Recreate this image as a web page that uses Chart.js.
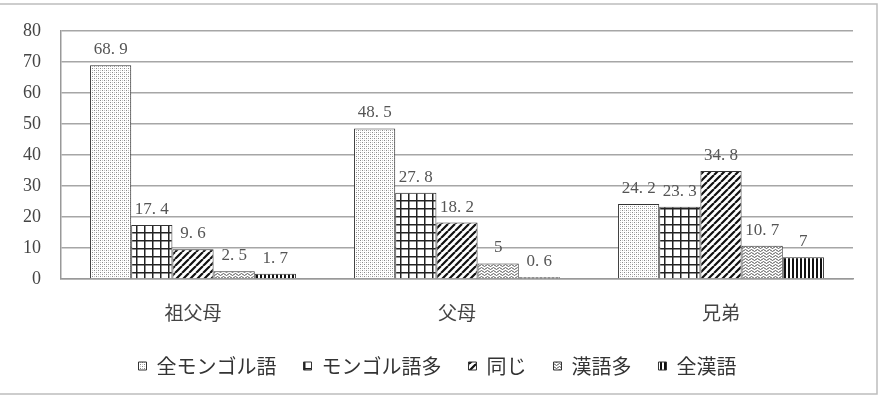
<!DOCTYPE html>
<html>
<head>
<meta charset="utf-8">
<script src="https://cdn.jsdelivr.net/npm/chart.js@4.4.0/dist/chart.umd.min.js"></script>
<style>
  html, body { margin: 0; padding: 0; background: #fff; }
  #wrap { width: 879px; height: 396px; }
</style>
</head>
<body>
<div id="wrap"><canvas id="chart" width="879" height="396"></canvas></div>
<script>
// ---- data ----
const categories = ['祖父母', '父母', '兄弟'];
const seriesNames = ['全モンゴル語', 'モンゴル語多', '同じ', '漢語多', '全漢語'];
const allMongolian = [68.9, 48.5, 24.2];
const mostlyMongolian = [17.4, 27.8, 23.3];
const same = [9.6, 18.2, 34.8];
const mostlyChinese = [2.5, 5, 10.7];
const allChinese = [1.7, 0.6, 7];
const yTicks = [0, 10, 20, 30, 40, 50, 60, 70, 80];

// ---- patterns ----
function makeTile(size, draw) {
  const c = document.createElement('canvas');
  c.width = size; c.height = size;
  const g = c.getContext('2d');
  g.fillStyle = '#fff';
  g.fillRect(0, 0, size, size);
  draw(g, size);
  return document.getElementById('chart').getContext('2d').createPattern(c, 'repeat');
}

const patterns = [
  // fine stipple
  makeTile(4, (g) => {
    g.fillStyle = '#8a8a8a';
    g.fillRect(0, 0, 1, 1);
    g.fillRect(2, 2, 1, 1);
    g.fillStyle = '#c8c8c8';
    g.fillRect(2, 0, 1, 1);
    g.fillRect(0, 2, 1, 1);
  }),
  // square grid
  makeTile(8, (g) => {
    g.fillStyle = '#222';
    g.fillRect(0, 0, 8, 1.5);
    g.fillRect(0, 0, 1.5, 8);
  }),
  // diagonal hatch
  makeTile(7, (g, s) => {
    g.strokeStyle = '#111';
    g.lineWidth = 2.2;
    g.beginPath();
    for (let k = -1; k <= 1; k++) {
      g.moveTo(k * s, s);
      g.lineTo(k * s + s, 0);
    }
    g.stroke();
  }),
  // wavy
  makeTile(6, (g) => {
    g.strokeStyle = '#555';
    g.lineWidth = 1;
    g.beginPath();
    g.moveTo(0, 1.5); g.lineTo(1.5, 0.5); g.lineTo(3, 1.5); g.lineTo(4.5, 2.5); g.lineTo(6, 1.5);
    g.moveTo(0, 4.5); g.lineTo(1.5, 3.5); g.lineTo(3, 4.5); g.lineTo(4.5, 5.5); g.lineTo(6, 4.5);
    g.stroke();
  }),
  // vertical stripes
  makeTile(4, (g) => {
    g.fillStyle = '#111';
    g.fillRect(0, 0, 2, 4);
  })
];

const seriesValues = [allMongolian, mostlyMongolian, same, mostlyChinese, allChinese];

// value labels above bars
const valueLabels = {
  id: 'valueLabels',
  afterDatasetsDraw(chart) {
    const ctx = chart.ctx;
    ctx.save();
    ctx.font = '17px "Liberation Serif", "DejaVu Serif", serif';
    ctx.fillStyle = '#555';
    ctx.textAlign = 'center';
    ctx.textBaseline = 'bottom';
    chart.data.datasets.forEach((ds, i) => {
      chart.getDatasetMeta(i).data.forEach((bar, j) => {
        const txt = String(ds.data[j]).replace('.', '. ');
        ctx.fillText(txt, bar.x, bar.y - 7);
      });
    });
    ctx.restore();
  }
};

// outer frame
const frame = {
  id: 'frame',
  afterDraw(chart) {
    const ctx = chart.ctx;
    ctx.save();
    ctx.strokeStyle = '#bdbdbd';
    ctx.lineWidth = 1.5;
    ctx.beginPath();
    ctx.moveTo(0, 4);
    ctx.lineTo(877, 4);
    ctx.lineTo(877, 394);
    ctx.lineTo(0, 394);
    ctx.stroke();
    ctx.restore();
  }
};

new Chart(document.getElementById('chart'), {
  type: 'bar',
  data: {
    labels: categories,
    datasets: seriesNames.map((name, i) => ({
      label: name,
      data: seriesValues[i],
      backgroundColor: patterns[i],
      borderColor: '#333',
      borderWidth: 1,
      barPercentage: 1.0,
      categoryPercentage: 0.78
    }))
  },
  options: {
    responsive: false,
    animation: false,
    // left padding nudges the legend to the right; y axis width makes up the rest
    layout: { padding: { top: 29, right: 26, left: 22, bottom: 10 } },
    plugins: {
      tooltip: { enabled: false },
      legend: {
        position: 'bottom',
        labels: {
          color: '#333',
          boxWidth: 8,
          boxHeight: 8,
          padding: 27,
          font: { family: '"Noto Sans CJK JP", sans-serif', size: 20 }
        }
      }
    },
    scales: {
      x: {
        grid: { display: false },
        border: { color: '#999', width: 1.5 },
        ticks: {
          color: '#444',
          padding: 14,
          font: { family: '"Noto Sans CJK JP", sans-serif', size: 19 }
        },
        afterFit(scale) { scale.height = 50; }
      },
      y: {
        min: 0,
        max: 80,
        afterBuildTicks(scale) { scale.ticks = yTicks.map(v => ({ value: v })); },
        grid: { color: '#a6a6a6', lineWidth: 1.5, drawTicks: false },
        border: { color: '#999', width: 1.5 },
        ticks: {
          color: '#444',
          padding: 20,
          font: { family: '"Liberation Serif", serif', size: 18 }
        },
        afterFit(scale) { scale.width = 39; }
      }
    }
  },
  plugins: [valueLabels, frame]
});
</script>
</body>
</html>
